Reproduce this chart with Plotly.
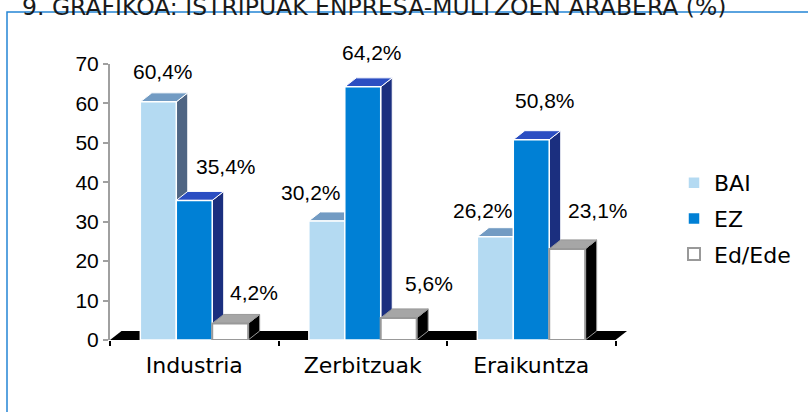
import plotly.graph_objects as go

# ---------------- data ----------------
categories = ["Industria", "Zerbitzuak", "Eraikuntza"]
series_names = ["BAI", "EZ", "Ed/Ede"]
bai = [60.4, 30.2, 26.2]
ez = [35.4, 64.2, 50.8]
ed_ede = [4.2, 5.6, 23.1]
label_texts = [["60,4%", "30,2%", "26,2%"],
               ["35,4%", "64,2%", "50,8%"],
               ["4,2%", "5,6%", "23,1%"]]
y_tick_vals = [0, 10, 20, 30, 40, 50, 60, 70]
title_text = "9. GRAFIKOA: ISTRIPUAK ENPRESA-MULTZOEN ARABERA (%)"

# ---------------- style ----------------
W, H = 808, 412
PX_PER_CAT = 168.5
DX_PX, DY_PX = 11.5, 9.0
L_M, T_M, B_M = 110, 64, 72
Y_MAX = 70
plot_h = H - T_M - B_M
dx = DX_PX / PX_PER_CAT
dy = DY_PX * Y_MAX / plot_h
plot_w = PX_PER_CAT * 3 + DX_PX
R_M = W - L_M - plot_w
BARGAP = 0.36
bw = (1 - BARGAP) / 3

front_colors = ["#B4DAF2", "#0080D5", "#FFFFFF"]
top_colors = ["#729BC3", "#2B4EC2", "#A6A6A6"]
side_colors = ["#4F6583", "#1B2F7F", "#000000"]
edge_colors = ["#FFFFFF", "#FFFFFF", "#999999"]
edge_widths = [1.5, 1.5, 2]

# label offsets in pixels from (bar front centre, bar front top)
label_dx = [[5, -15.5, -12], [31.5, 9, 14], [23.5, 30.5, 31]]
label_dy = [[30.6, 28, 26], [34, 34, 39], [30.5, 34, 38]]

series = [bai, ez, ed_ede]
xpos = list(range(len(categories)))

fig = go.Figure()
for j, (name, vals) in enumerate(zip(series_names, series)):
    fig.add_trace(go.Bar(
        x=xpos, y=vals, name=name, legendgroup=name,
        marker=dict(color=front_colors[j],
                    line=dict(color=edge_colors[j], width=edge_widths[j])),
        hoverinfo="skip",
    ))

shapes = []
# floor
x_lo, x_hi = -0.5, len(categories) - 0.5
shapes.append(dict(type="path", xref="x", yref="y", layer="below",
                   path=f"M{x_lo},0 L{x_hi},0 L{x_hi+dx},{dy} L{x_lo+dx},{dy} Z",
                   fillcolor="#000000", line=dict(width=0)))
for i in xpos:
    for j, vals in enumerate(series):
        v = vals[i]
        xc = i + (j - 1) * bw
        xl, xr = xc - bw / 2, xc + bw / 2
        # side face
        shapes.append(dict(type="path", xref="x", yref="y", layer="below",
                           path=f"M{xr},0 L{xr},{v} L{xr+dx},{v+dy} L{xr+dx},{dy} Z",
                           fillcolor=side_colors[j],
                           line=dict(color=edge_colors[j], width=1)))
        # top face
        shapes.append(dict(type="path", xref="x", yref="y", layer="below",
                           path=f"M{xl},{v} L{xr},{v} L{xr+dx},{v+dy} L{xl+dx},{v+dy} Z",
                           fillcolor=top_colors[j],
                           line=dict(color=edge_colors[j], width=1)))

# outer frame
shapes.append(dict(type="rect", xref="paper", yref="paper",
                   x0=(7 - L_M) / plot_w, x1=2,
                   y0=(H - B_M - 12) / plot_h, y1=-1,
                   line=dict(color="#2485D5", width=1.5), fillcolor="rgba(0,0,0,0)"))

annotations = []
for j, vals in enumerate(series):
    for i in xpos:
        xc = i + (j - 1) * bw
        annotations.append(dict(
            x=xc, y=vals[i], xref="x", yref="y", text=label_texts[j][i],
            showarrow=False, xanchor="center", yanchor="middle",
            xshift=label_dx[j][i], yshift=label_dy[j][i],
            font=dict(family="Liberation Sans, Arial", size=21, color="#000000")))

annotations.append(dict(
    x=(20 - L_M) / plot_w, y=(H - B_M - 23) / plot_h, xref="paper", yref="paper",
    text=title_text, showarrow=False, xanchor="left", yanchor="bottom",
    font=dict(family="DejaVu Sans", size=23.5, color="#1A1A1A")))

fig.update_layout(
    width=W, height=H,
    margin=dict(l=L_M, r=R_M, t=T_M, b=B_M, autoexpand=False),
    paper_bgcolor="#FFFFFF", plot_bgcolor="#FFFFFF",
    barmode="group", bargap=BARGAP, bargroupgap=0,
    shapes=shapes, annotations=annotations,
    showlegend=True,
    legend=dict(x=(674 - L_M) / plot_w, xanchor="left",
                y=(H - B_M - 218.5) / plot_h, yanchor="middle",
                font=dict(family="DejaVu Sans", size=22, color="#000000"),
                tracegroupgap=4, bgcolor="rgba(0,0,0,0)"),
    xaxis=dict(
        range=[x_lo, x_hi + dx], tickvals=xpos, ticktext=categories,
        ticks="", showgrid=False, zeroline=False, showline=False,
        automargin=False, ticklabelstandoff=10,
        tickfont=dict(family="DejaVu Sans", size=22, color="#000000"),
        minor=dict(tickvals=[x_lo + k for k in range(len(categories) + 1)],
                   ticks="outside", ticklen=5, tickcolor="#000000", tickwidth=1.5,
                   showgrid=False),
        fixedrange=True,
    ),
    yaxis=dict(
        range=[0, Y_MAX], tickvals=y_tick_vals,
        ticks="outside", ticklen=5, tickcolor="#A0A0A0", tickwidth=1.5,
        showline=True, linecolor="#A0A0A0", linewidth=2,
        showgrid=False, zeroline=False, automargin=False,
        tickfont=dict(family="Liberation Sans, Arial", size=21, color="#000000"),
        fixedrange=True,
    ),
)

fig.write_html("out.html", config={"displayModeBar": False},
               post_script="document.body.style.margin='0';document.body.style.overflow='hidden';")
